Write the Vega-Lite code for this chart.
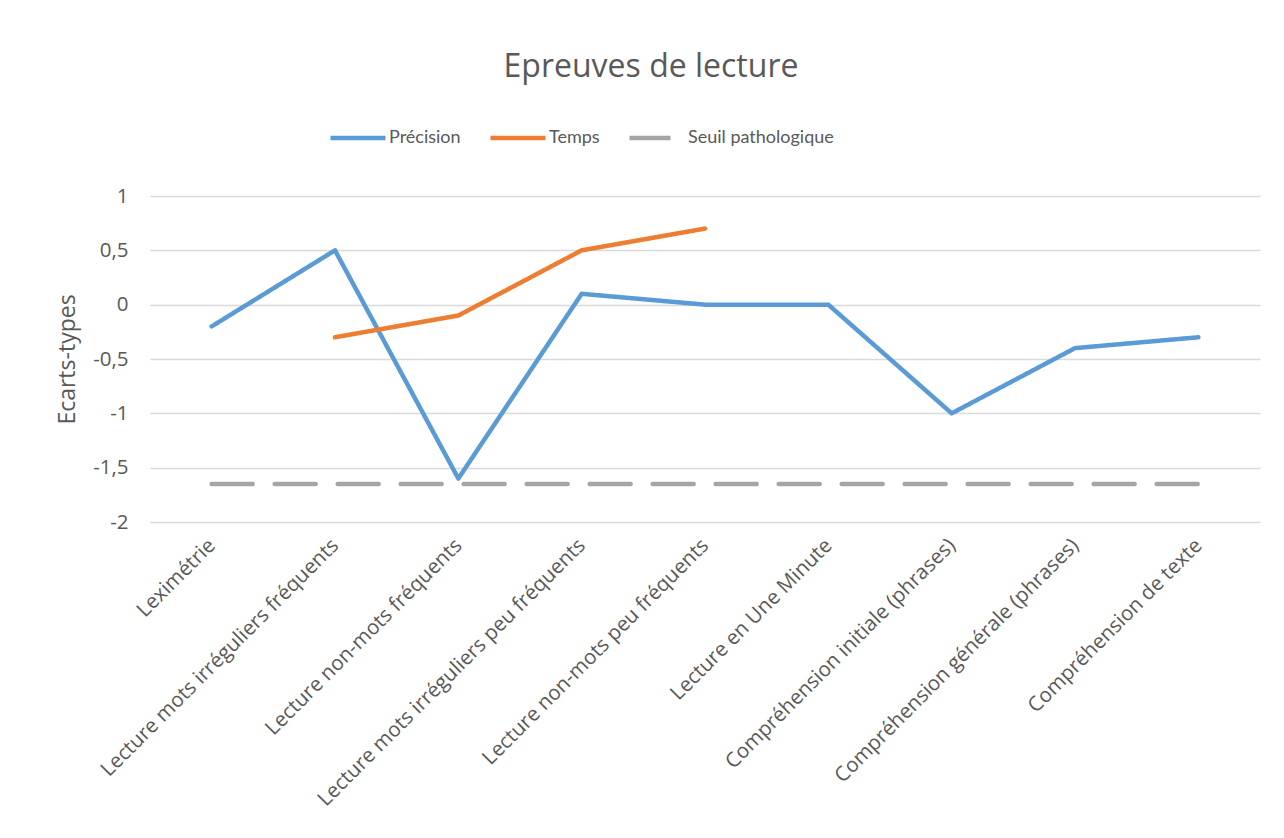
{
  "$schema": "https://vega.github.io/schema/vega-lite/v6.json",
  "autosize": {"type": "none"},
  "padding": {"left": 150, "top": 196, "right": 24, "bottom": 316},
  "width": 1110,
  "height": 326,
  "background": "white",
  "title": {
    "text": "Epreuves de lecture",
    "font": "Open Sans",
    "fontSize": 32,
    "fontWeight": "normal",
    "color": "#595959",
    "anchor": "middle",
    "dx": -54,
    "offset": 24
  },
  "config": {
    "locale": {"number": {"decimal": ",", "thousands": " ", "grouping": [3], "currency": ["", " €"], "minus": "-"}},
    "view": {"stroke": null},
    "font": "Open Sans"
  },
  "data": {
    "values": [
      {"test": "Leximétrie", "serie": "Précision", "value": -0.2},
      {"test": "Lecture mots irréguliers fréquents", "serie": "Précision", "value": 0.5},
      {"test": "Lecture non-mots fréquents", "serie": "Précision", "value": -1.6},
      {"test": "Lecture mots irréguliers peu fréquents", "serie": "Précision", "value": 0.1},
      {"test": "Lecture non-mots peu fréquents", "serie": "Précision", "value": 0},
      {"test": "Lecture en Une Minute", "serie": "Précision", "value": 0},
      {"test": "Compréhension initiale (phrases)", "serie": "Précision", "value": -1},
      {"test": "Compréhension générale (phrases)", "serie": "Précision", "value": -0.4},
      {"test": "Compréhension de texte", "serie": "Précision", "value": -0.3},
      {"test": "Lecture mots irréguliers fréquents", "serie": "Temps", "value": -0.3},
      {"test": "Lecture non-mots fréquents", "serie": "Temps", "value": -0.1},
      {"test": "Lecture mots irréguliers peu fréquents", "serie": "Temps", "value": 0.5},
      {"test": "Lecture non-mots peu fréquents", "serie": "Temps", "value": 0.7},
      {"test": "Leximétrie", "serie": "Seuil pathologique", "value": -1.65},
      {"test": "Lecture mots irréguliers fréquents", "serie": "Seuil pathologique", "value": -1.65},
      {"test": "Lecture non-mots fréquents", "serie": "Seuil pathologique", "value": -1.65},
      {"test": "Lecture mots irréguliers peu fréquents", "serie": "Seuil pathologique", "value": -1.65},
      {"test": "Lecture non-mots peu fréquents", "serie": "Seuil pathologique", "value": -1.65},
      {"test": "Lecture en Une Minute", "serie": "Seuil pathologique", "value": -1.65},
      {"test": "Compréhension initiale (phrases)", "serie": "Seuil pathologique", "value": -1.65},
      {"test": "Compréhension générale (phrases)", "serie": "Seuil pathologique", "value": -1.65},
      {"test": "Compréhension de texte", "serie": "Seuil pathologique", "value": -1.65}
    ]
  },
  "mark": {"type": "line", "strokeWidth": 4.5, "strokeCap": "round", "strokeJoin": "round"},
  "encoding": {
    "x": {
      "field": "test",
      "type": "nominal",
      "sort": null,
      "scale": {"type": "point", "padding": 0.5},
      "axis": {
        "title": null,
        "labelAngle": -45,
        "labelAlign": "right",
        "labelBaseline": "middle",
        "labelFont": "Open Sans",
        "labelFontSize": 20.5,
        "labelColor": "#595959",
        "labelPadding": 20,
        "labelLimit": 500,
        "ticks": false,
        "domain": false,
        "grid": false
      }
    },
    "y": {
      "field": "value",
      "type": "quantitative",
      "scale": {"domain": [-2, 1], "nice": false, "zero": false},
      "axis": {
        "title": "Ecarts-types",
        "titleFont": "Open Sans",
        "titleFontSize": 23,
        "titleFontWeight": "normal",
        "titleColor": "#595959",
        "titlePadding": 13,
        "values": [-2, -1.5, -1, -0.5, 0, 0.5, 1],
        "format": "~g",
        "labelFont": "Open Sans",
        "labelFontSize": 20.5,
        "labelColor": "#595959",
        "labelPadding": 22,
        "ticks": false,
        "domain": false,
        "grid": true,
        "gridColor": "#D9D9D9",
        "gridWidth": 1.3
      }
    },
    "color": {
      "field": "serie",
      "type": "nominal",
      "scale": {"domain": ["Précision", "Temps", "Seuil pathologique"], "range": ["#5B9BD5", "#ED7D31", "#A5A5A5"]},
      "legend": {
        "title": null,
        "orient": "none",
        "direction": "horizontal",
        "legendX": 178,
        "legendY": -88,
        "symbolType": "stroke",
        "symbolSize": 3025,
        "symbolStrokeWidth": 4.5,
        "labelFont": "Lato",
        "labelFontSize": 18,
        "labelColor": "#595959",
        "labelOffset": 1,
        "columnPadding": 20,
        "labelLimit": 400
      }
    },
    "strokeDash": {
      "field": "serie",
      "type": "nominal",
      "scale": {"domain": ["Précision", "Temps", "Seuil pathologique"], "range": [[1, 0], [1, 0], [41, 22]]},
      "legend": {
        "title": null,
        "orient": "none",
        "direction": "horizontal",
        "legendX": 178,
        "legendY": -88,
        "symbolType": "stroke",
        "symbolSize": 3025,
        "symbolStrokeWidth": 4.5,
        "labelFont": "Lato",
        "labelFontSize": 18,
        "labelColor": "#595959",
        "labelOffset": 1,
        "columnPadding": 20,
        "labelLimit": 400
      }
    }
  }
}
